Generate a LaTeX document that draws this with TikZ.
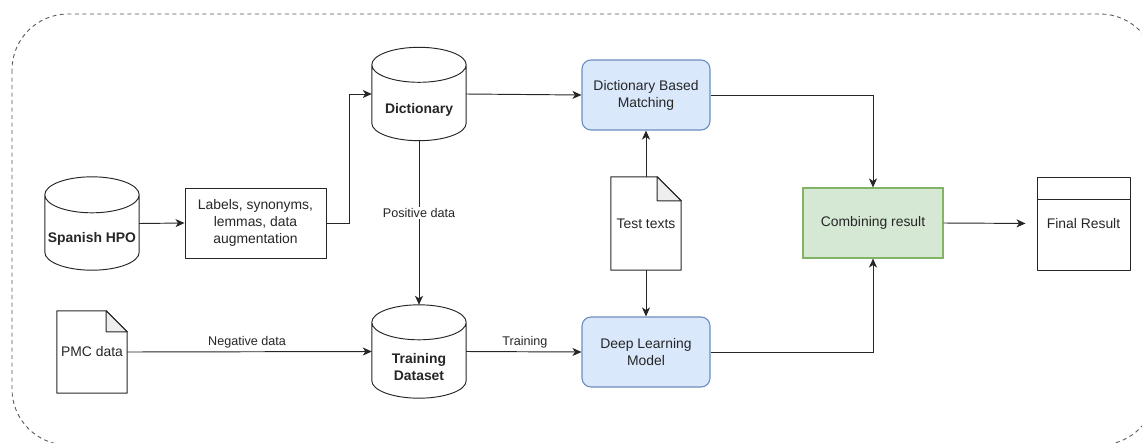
\documentclass[tikz,border=0pt]{standalone}
\usepackage{fontspec}
\setmainfont{Liberation Sans}
\usetikzlibrary{arrows.meta,calc}

\definecolor{blueFill}{HTML}{DAE8FC}
\definecolor{blueLine}{HTML}{6C8EBF}
\definecolor{greenFill}{HTML}{D5E8D4}
\definecolor{greenLine}{HTML}{82B366}
\definecolor{foldFill}{HTML}{EEEEEE}
\definecolor{ink}{HTML}{262626}

% cylinder outline drawn round a placeholder node: #1 node name, #2 ellipse y radius (pt)
\newcommand\drawcyl[2]{%
  \draw[shapeline] let \p1=(#1.north west), \p2=(#1.south east), \n1={(\x2-\x1)/2} in
    (\x1,\y1-#2pt) arc[start angle=180, end angle=-180, x radius=\n1, y radius=#2pt]
    (\x1,\y1-#2pt) -- (\x1,\y2+#2pt)
      arc[start angle=180, end angle=360, x radius=\n1, y radius=#2pt]
      -- (\x2,\y1-#2pt);}
% page with a folded corner: #1 node name, #2 fold size
\newcommand\drawdoc[2]{%
  \draw[shapeline] ($(#1.north east)+(-#2,0)$) -- (#1.north west) -- (#1.south west)
     -- (#1.south east) -- ($(#1.north east)+(0,-#2)$) -- cycle;
  \draw[shapeline, fill=foldFill] ($(#1.north east)+(-#2,0)$) -- ($(#1.north east)+(-#2,-#2)$)
     -- ($(#1.north east)+(0,-#2)$) -- cycle;}

\begin{document}
\begin{tikzpicture}[x=1pt, y=1pt,
  shapeline/.style={line width=0.95pt, draw=ink, line join=round},
  boxtext/.style={font=\fontsize{13.9}{17}\selectfont, text=ink, align=center},
  boldtext/.style={boxtext, font=\fontsize{13.9}{17}\selectfont\bfseries},
  place/.style={draw=none, inner sep=0pt, minimum width=#1},
  cylbox/.style={place=94, minimum height=93},
  plainbox/.style={shapeline, boxtext, inner sep=0pt, minimum width=141, minimum height=70},
  bluebox/.style={boxtext, draw=blueLine, fill=blueFill, line width=1.1pt,
     rounded corners=9pt, inner sep=0pt, minimum width=128, minimum height=70},
  greenbox/.style={boxtext, draw=greenLine, fill=greenFill, line width=1.1pt,
     inner sep=0pt, minimum width=140, minimum height=70},
  conn/.style={line width=0.95pt, draw=ink, -{Stealth[length=9pt, width=8pt, inset=2.5pt]}},
  edgetext/.style={font=\fontsize{12.6}{15}\selectfont, text=ink, inner sep=1pt}
]
\useasboundingbox (0,0) rectangle (1142,-442);

% dashed frame round the whole pipeline
\draw[black!65, line width=0.9pt, dash pattern=on 4pt off 3.5pt, rounded corners=56pt]
  (12,-14) rectangle (1156,-445);

% databases
\node[cylbox] (hpo) at (92,-223.5) {};
\drawcyl{hpo}{18}
\node[boldtext] (hpotxt) at (92,-239) {Spanish HPO};

\node[cylbox] (dict) at (419,-94) {};
\drawcyl{dict}{17.5}
\node[boldtext] (dicttxt) at (419,-109.5) {Dictionary};

\node[cylbox] (train) at (419,-351.5) {};
\drawcyl{train}{17.5}
\node[boldtext] (traintxt) at (419,-367) {Training\\Dataset};

% processing boxes
\node[plainbox] (labels) at (255.5,-223) {Labels, synonyms,\\lemmas, data\\augmentation};
\node[bluebox] (dbm) at (646,-95) {Dictionary Based\\Matching};
\node[bluebox] (dlm) at (646,-352) {Deep Learning\\Model};
\node[greenbox] (comb) at (873,-223) {Combining result};

% documents
\node[place=70, minimum height=93] (test) at (646,-223.5) {};
\drawdoc{test}{24}
\node[boxtext] (testtxt) at (646,-223.5) {Test texts};

\node[place=70, minimum height=82] (pmc) at (92,-352) {};
\drawdoc{pmc}{21}
\node[boxtext] (pmctxt) at (92,-352) {PMC data};

% result table
\node[shapeline, boxtext, inner sep=0pt, minimum width=93, minimum height=93] (final) at (1083.5,-223.5) {Final Result};
\draw[shapeline] ($(final.north west)+(0,-23)$) -- ($(final.north east)+(0,-23)$);

% connectors
\draw[conn] (hpo.east) -- (labels.west);
\draw[conn] (labels.east) -- ++(23,0) |- (dict.west);
\draw[conn] (dict.east) -- (dbm.west);
\draw[conn] (dict.south) -- node[edgetext, fill=white, pos=0.44] (posl) {Positive data} (train.north);
\draw[conn] (pmc.east) -- node[edgetext, above=2pt, pos=0.49] (negl) {Negative data} (train.west);
\draw[conn] (train.east) -- node[edgetext, above=2pt, pos=0.51] (trl) {Training} (dlm.west);
\draw[conn] (test.north) -- (dbm.south);
\draw[conn] (test.south) -- (dlm.north);
\draw[conn] (dbm.east) -| (comb.north);
\draw[conn] (dlm.east) -| (comb.south);
\draw[conn, shorten >=11pt] (comb.east) -- (final.west);
\end{tikzpicture}
\end{document}
